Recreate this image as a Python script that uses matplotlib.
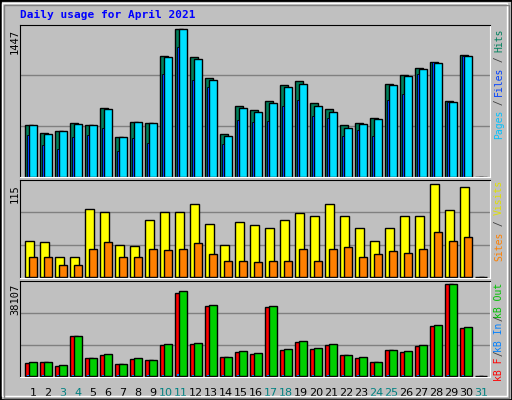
import matplotlib
matplotlib.use("Agg")
import matplotlib.pyplot as plt
from matplotlib.patches import Rectangle
import numpy as np

days = list(range(1, 32))
weekend = [3, 4, 10, 11, 17, 18, 24, 25, 31]

hits = [504, 426, 445, 524, 504, 671, 390, 534, 524, 1182, 1447, 1172, 966, 416, 691,
        652, 740, 897, 936, 720, 661, 504, 524, 573, 907, 995, 1064, 1123, 740, 1192, 0]
files = [504, 416, 445, 514, 504, 661, 390, 534, 524, 1172, 1447, 1152, 946, 396, 671,
         632, 720, 877, 907, 691, 632, 475, 514, 563, 897, 985, 1054, 1113, 730, 1182, 0]
pages = [406, 308, 268, 386, 406, 475, 249, 377, 327, 1005, 1270, 946, 877, 318, 553,
         534, 543, 691, 750, 593, 573, 396, 455, 396, 750, 809, 1005, 1123, 730, 1182, 0]
visits = [45, 43, 24, 25, 84, 81, 39, 38, 70, 81, 80, 90, 65, 39, 68,
          64, 60, 70, 79, 76, 91, 75, 61, 45, 60, 75, 75, 115, 83, 112, 0]
sites = [25, 24, 15, 15, 35, 43, 25, 25, 34, 33, 35, 42, 28, 19, 20,
         18, 20, 20, 34, 20, 35, 37, 24, 28, 32, 30, 34, 55, 45, 50, 0]
kb_f = [5147, 5564, 3895, 16414, 7233, 8485, 4729, 6816, 6399, 12658, 34358, 13075, 28933, 7651, 9737,
        8902, 28516, 10572, 13910, 10989, 12658, 8485, 7233, 5564, 10572, 9737, 12241, 20587, 38107, 19752, 0]
kb_in = [150, 150, 100, 200, 150, 150, 100, 150, 150, 200, 600, 500, 250, 150, 150,
         150, 250, 150, 200, 150, 200, 150, 150, 100, 150, 150, 200, 250, 300, 250, 0]
kb_out = [5564, 5564, 4312, 16414, 7233, 8902, 4729, 7233, 6399, 13075, 35192, 13493, 29350, 7651, 10154,
          9320, 28933, 10989, 14327, 11406, 13075, 8485, 7651, 5564, 10572, 10154, 12658, 21004, 38107, 20170, 0]

W, H = 512, 400
BG = "#C0C0C0"
fig = plt.figure(figsize=(W / 100, H / 100), dpi=100)
fig.patch.set_facecolor(BG)
mono = "DejaVu Sans Mono"

# outer bevel
fig.add_artist(Rectangle((0, 0), 1, 1, transform=fig.transFigure, fill=False, ec="black", lw=2))
fig.add_artist(Rectangle((2 / W, 4 / H), (W - 7) / W, (H - 7) / H, transform=fig.transFigure,
                         fill=False, ec="white", lw=1))
fig.add_artist(Rectangle((4 / W, 2 / H), (W - 7) / W, (H - 7) / H, transform=fig.transFigure,
                         fill=False, ec="#808080", lw=1))


def panel(top, bottom, ylim):
    ax = fig.add_axes([20 / W, 1 - bottom / H, 470 / W, (bottom - top) / H])
    ax.set_facecolor(BG)
    ax.set_xlim(0, 470 / 15)
    ax.set_ylim(*ylim)
    ax.set_xticks([])
    ax.set_yticks([])
    for s in ("left", "top"):
        ax.spines[s].set_color("black")
    for s in ("right", "bottom"):
        ax.spines[s].set_color("white")
    return ax


x = np.arange(31)

ax1 = panel(25, 177, (-2, 1490))
for g in (500, 1000):
    ax1.axhline(g, color="#808080", lw=1, zorder=0)
ax1.bar(x + 0.355, hits, 0.49, align="edge", color="#00805C", ec="black", lw=1)
ax1.bar(x + 0.62, files, 0.49, align="edge", color="#00E0FF", ec="black", lw=1)
ax1.bar(x + 0.45, pages, 0.17, align="edge", color="#0040FF", ec="black", lw=0.6)

ax2 = panel(180, 278, (-1.6, 120.3))
for g in (40, 80):
    ax2.axhline(g, color="#808080", lw=1, zorder=0)
ax2.bar(x + 0.355, visits, 0.56, align="edge", color="#FFFF00", ec="black", lw=1)
ax2.bar(x + 0.62, sites, 0.49, align="edge", color="#FF8000", ec="black", lw=1)

ax3 = panel(281, 377, (-540, 39480))
for g in (13000, 26000):
    ax3.axhline(g, color="#808080", lw=1, zorder=0)
ax3.bar(x + 0.355, kb_f, 0.49, align="edge", color="#FF0000", ec="black", lw=1)
ax3.bar(x + 0.62, kb_out, 0.49, align="edge", color="#00D000", ec="black", lw=1)
ax3.bar(x + 0.45, kb_in, 0.17, align="edge", color="#0080FF", lw=0)

for d in days:
    off = 0.87 if d < 10 else 0.72
    ax3.text(d - 1 + off, -0.17, str(d), transform=ax3.get_xaxis_transform(), ha="center", va="center",
             fontsize=8, color="#008080" if d in weekend else "black", family="DejaVu Sans")

fig.text(20 / W, 1 - 15 / H, "Daily usage for April 2021", color="#0000FF", fontsize=8,
         fontweight="bold", family=mono, va="center")

for ytop, val in ((29, "1447"), (184, "115"), (284, "38107")):
    fig.text(15 / W, 1 - ytop / H, val, rotation=90, ha="center", va="top", fontsize=7.5, family=mono)


def side_legend(ytop, ybot, parts):
    # spread the coloured pieces over the given pixel span
    total = sum(len(p[0]) for p in parts)
    step = (ybot - ytop) / total
    y = ytop
    for label, col in parts:
        fig.text(499 / W, 1 - y / H, label, rotation=90, ha="center", va="top", color=col,
                 fontsize=7, family=mono)
        y += len(label) * step


SEP = "#404040"
side_legend(29, 137, [("Hits", "#00805C"), (" / ", SEP), ("Files", "#0040FF"), (" / ", SEP),
                      ("Pages", "#00C0FF")])
side_legend(180, 260, [("Visits", "#E0E000"), (" / ", SEP), ("Sites", "#FF8000")])
side_legend(283, 375, [("kB Out", "#00C000"), (" / ", SEP), ("kB In", "#0080FF"), (" / ", SEP),
                       ("kB F", "#FF0000")])

fig.savefig("out.png", dpi=100, facecolor=BG)
